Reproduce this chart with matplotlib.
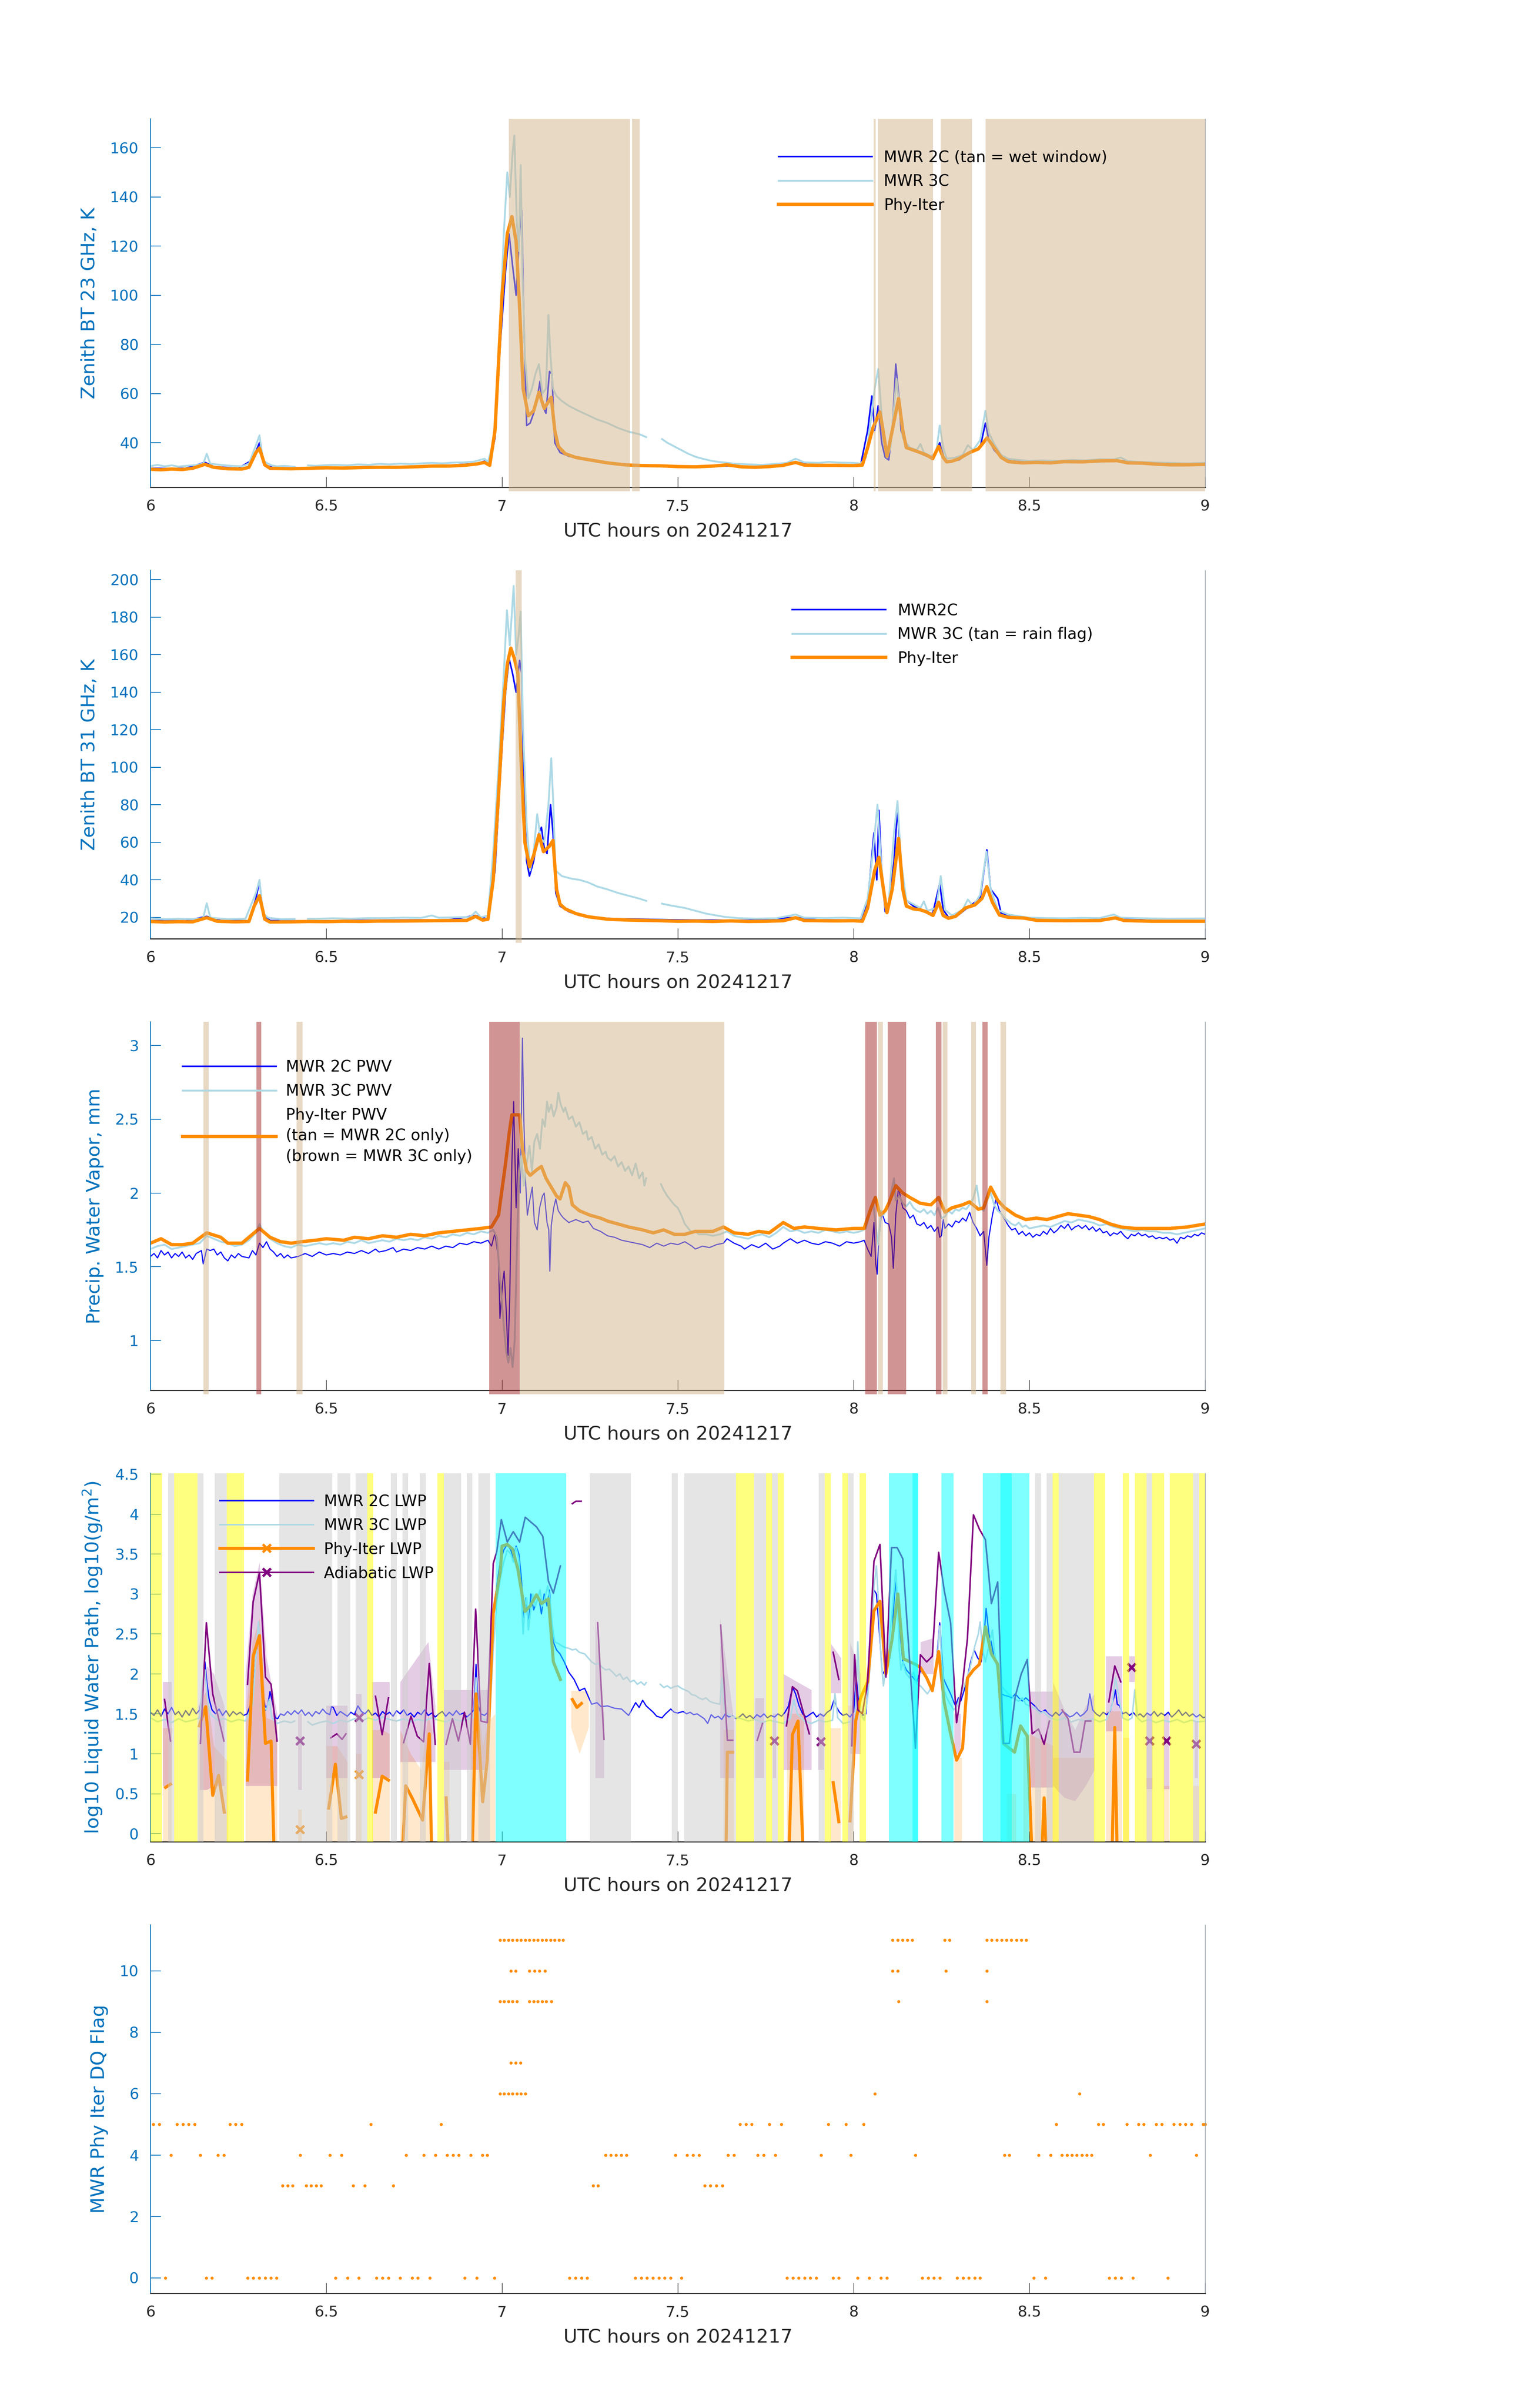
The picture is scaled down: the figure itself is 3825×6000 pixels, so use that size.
import numpy as np
import matplotlib
matplotlib.use("Agg")
import matplotlib.pyplot as plt
from matplotlib.lines import Line2D

NaN = np.nan

# ---------------- panel 1 : 23 GHz brightness temperature ----------------
BT23_2C = [(6.00,29.6),(6.05,29.5),(6.10,29.6),(6.155,32.0),(6.18,30.3),(6.25,29.6),(6.29,33.0),(6.31,40.0),(6.325,31.0),(6.35,29.8),(6.45,29.8),(6.55,29.9),(6.65,30.2),(6.75,30.4),(6.85,30.8),(6.93,31.6),(6.95,32.5),(6.965,31.0),(6.98,42.0),(6.995,80.0),(7.01,110.0),(7.02,125.0),(7.03,112.0),(7.04,100.0),(7.05,126.0),(7.056,134.5),(7.062,90.0),(7.07,47.0),(7.08,48.0),(7.09,52.0),(7.10,58.0),(7.108,65.0),(7.115,55.0),(7.125,52.0),(7.135,69.0),(7.142,68.0),(7.15,40.0),(7.165,36.0),(7.19,34.5),(7.22,33.5),(7.26,32.5),(7.30,31.6),(7.35,31.0),(7.45,30.7),(7.55,30.3),(7.65,30.6),(7.75,30.1),(7.835,32.2),(7.88,30.9),(7.95,30.7),(8.02,30.9),(8.04,45.0),(8.052,59.0),(8.06,45.0),(8.07,55.0),(8.08,40.0),(8.09,34.0),(8.10,33.0),(8.11,45.0),(8.12,72.0),(8.128,60.0),(8.135,45.0),(8.15,39.0),(8.17,37.0),(8.20,35.0),(8.225,33.5),(8.245,40.0),(8.26,32.5),(8.30,33.0),(8.33,36.0),(8.36,38.0),(8.375,48.0),(8.385,41.0),(8.40,37.0),(8.42,34.0),(8.45,32.5),(8.55,32.0),(8.65,32.4),(8.75,32.8),(8.85,31.7),(9.00,31.3)]
BT23_3C = [(6.00,30.5),(6.02,31.0),(6.04,30.4),(6.06,30.8),(6.08,30.3),(6.10,30.6),(6.13,30.9),(6.15,31.5),(6.16,35.5),(6.17,31.5),(6.20,31.0),(6.23,30.6),(6.26,30.4),(6.28,31.5),(6.30,39.0),(6.31,43.0),(6.32,33.0),(6.33,31.8),(6.345,30.8),(6.36,30.4),(6.38,30.6),(6.41,30.2),(6.412,NaN),(6.448,30.8),(6.47,30.6),(6.50,30.9),(6.53,31.0),(6.56,30.8),(6.59,31.2),(6.62,31.0),(6.65,31.4),(6.68,31.2),(6.71,31.5),(6.74,31.3),(6.77,31.6),(6.80,31.8),(6.83,31.6),(6.86,31.9),(6.89,32.0),(6.92,32.3),(6.95,33.5),(6.96,32.2),(6.975,40.0),(6.985,60.0),(6.995,90.0),(7.005,125.0),(7.015,150.0),(7.022,140.0),(7.030,158.0),(7.035,165.0),(7.042,130.0),(7.048,118.0),(7.053,153.0),(7.058,110.0),(7.065,75.0),(7.075,58.0),(7.085,62.0),(7.095,68.0),(7.105,72.0),(7.115,60.0),(7.125,62.0),(7.132,92.0),(7.138,75.0),(7.145,62.0),(7.155,59.0),(7.17,57.0),(7.19,55.0),(7.21,53.5),(7.24,51.5),(7.27,49.5),(7.30,48.0),(7.33,46.0),(7.36,44.5),(7.39,43.5),(7.41,42.3),(7.415,NaN),(7.455,41.5),(7.47,40.0),(7.49,38.5),(7.51,37.0),(7.53,35.5),(7.55,34.3),(7.57,33.5),(7.60,32.5),(7.63,32.0),(7.66,31.5),(7.70,31.2),(7.74,31.0),(7.78,31.4),(7.81,31.8),(7.835,33.5),(7.86,32.0),(7.90,31.8),(7.93,32.2),(7.96,31.9),(8.00,31.8),(8.02,31.5),(8.035,34.0),(8.05,50.0),(8.06,62.0),(8.07,70.0),(8.078,55.0),(8.085,40.0),(8.095,34.0),(8.105,38.0),(8.115,55.0),(8.122,66.0),(8.13,55.0),(8.14,42.0),(8.16,38.0),(8.18,37.0),(8.19,39.5),(8.20,36.0),(8.22,34.5),(8.235,36.0),(8.245,47.0),(8.255,38.0),(8.265,33.5),(8.29,34.0),(8.31,35.0),(8.325,39.0),(8.34,37.0),(8.36,41.0),(8.375,53.0),(8.385,44.0),(8.40,39.5),(8.42,35.0),(8.44,33.5),(8.47,33.0),(8.50,32.6),(8.54,32.8),(8.58,32.6),(8.62,33.0),(8.66,32.8),(8.70,33.3),(8.74,33.2),(8.76,34.0),(8.78,32.5),(8.81,32.2),(8.85,32.0),(8.90,31.8),(8.95,31.6),(9.00,31.8)]
BT23_PHY = [(6.00,29.2),(6.03,29.0),(6.06,29.3),(6.09,29.1),(6.12,29.6),(6.155,31.2),(6.18,30.0),(6.22,29.4),(6.26,29.3),(6.28,30.0),(6.30,36.0),(6.31,37.8),(6.325,31.0),(6.34,29.6),(6.40,29.4),(6.45,29.6),(6.50,29.8),(6.55,29.7),(6.60,29.9),(6.65,30.0),(6.70,30.0),(6.75,30.2),(6.80,30.5),(6.85,30.5),(6.90,30.9),(6.93,31.4),(6.95,32.0),(6.965,30.8),(6.98,45.0),(7.00,100.0),(7.015,125.0),(7.028,132.0),(7.04,122.0),(7.05,95.0),(7.06,62.0),(7.075,51.0),(7.09,53.0),(7.105,60.5),(7.12,54.0),(7.14,58.5),(7.15,45.0),(7.16,38.5),(7.18,35.5),(7.21,34.0),(7.25,33.0),(7.30,31.8),(7.35,31.0),(7.40,30.7),(7.45,30.6),(7.50,30.3),(7.55,30.2),(7.60,30.5),(7.64,31.0),(7.68,30.2),(7.72,30.0),(7.76,30.3),(7.80,30.8),(7.835,32.0),(7.86,30.9),(7.90,30.8),(7.95,30.8),(8.00,30.7),(8.025,30.9),(8.04,38.0),(8.055,46.0),(8.075,52.5),(8.085,44.0),(8.095,34.5),(8.11,45.0),(8.128,58.0),(8.14,45.0),(8.15,38.0),(8.17,37.0),(8.19,36.0),(8.21,34.8),(8.225,33.5),(8.242,38.5),(8.255,34.0),(8.265,32.2),(8.28,32.5),(8.30,33.5),(8.33,36.0),(8.355,37.5),(8.38,42.0),(8.40,38.0),(8.42,34.0),(8.44,32.3),(8.48,31.8),(8.52,32.0),(8.56,31.8),(8.60,32.3),(8.65,32.2),(8.70,32.6),(8.75,32.7),(8.78,31.8),(8.82,31.7),(8.86,31.3),(8.90,31.0),(8.95,31.0),(9.00,31.2)]
WET_WINDOW = [(7.019,7.364),(7.370,7.392),(8.057,8.063),(8.070,8.226),(8.248,8.337),(8.376,9.0)]

# ---------------- panel 2 : 31 GHz brightness temperature ----------------
BT31_2C = [(6.00,18.3),(6.10,18.1),(6.16,20.5),(6.20,18.3),(6.28,18.2),(6.30,30.0),(6.31,39.5),(6.32,22.0),(6.34,18.3),(6.45,18.0),(6.55,18.3),(6.65,18.5),(6.75,18.6),(6.85,18.7),(6.925,21.0),(6.96,19.0),(6.98,45.0),(6.995,95.0),(7.01,140.0),(7.02,158.0),(7.03,150.0),(7.04,140.0),(7.05,157.0),(7.056,150.0),(7.062,90.0),(7.07,50.0),(7.078,42.0),(7.09,50.0),(7.10,62.0),(7.112,68.0),(7.12,57.0),(7.128,54.0),(7.138,80.0),(7.145,65.0),(7.153,33.0),(7.165,26.0),(7.19,23.0),(7.22,21.0),(7.26,20.0),(7.32,19.2),(7.40,19.0),(7.50,18.6),(7.60,18.5),(7.70,18.4),(7.835,20.0),(7.90,18.6),(8.02,18.5),(8.04,28.0),(8.058,65.0),(8.066,40.0),(8.072,77.0),(8.08,45.0),(8.09,23.0),(8.10,25.0),(8.115,50.0),(8.125,78.0),(8.132,55.0),(8.145,30.0),(8.17,26.0),(8.20,23.0),(8.225,22.0),(8.245,38.0),(8.255,24.0),(8.27,20.0),(8.30,21.5),(8.33,26.0),(8.36,30.0),(8.379,56.0),(8.39,35.0),(8.41,30.0),(8.42,22.0),(8.46,20.0),(8.55,18.6),(8.65,18.5),(8.75,19.5),(8.85,18.3),(9.00,18.2)]
BT31_3C = [(6.00,19.4),(6.04,19.0),(6.08,19.2),(6.12,19.0),(6.15,19.6),(6.16,27.5),(6.17,19.8),(6.22,19.0),(6.27,19.2),(6.30,33.0),(6.31,40.0),(6.32,22.0),(6.335,19.8),(6.37,19.0),(6.41,19.1),(6.412,NaN),(6.448,19.2),(6.47,19.2),(6.52,19.5),(6.57,19.3),(6.62,19.6),(6.67,19.6),(6.72,19.8),(6.77,19.7),(6.80,21.0),(6.82,19.8),(6.87,20.0),(6.91,20.2),(6.925,23.0),(6.94,20.0),(6.96,21.0),(6.975,55.0),(6.99,100.0),(7.005,150.0),(7.014,183.7),(7.022,165.0),(7.033,196.7),(7.04,160.0),(7.047,170.0),(7.053,183.0),(7.06,120.0),(7.07,70.0),(7.08,45.0),(7.09,55.0),(7.10,75.0),(7.11,62.0),(7.12,60.0),(7.132,80.0),(7.14,104.8),(7.146,80.0),(7.152,45.0),(7.17,42.0),(7.20,40.5),(7.22,40.0),(7.245,38.6),(7.27,36.5),(7.30,34.9),(7.33,33.0),(7.36,31.5),(7.39,30.0),(7.41,28.8),(7.415,NaN),(7.455,27.3),(7.48,26.3),(7.52,25.0),(7.55,23.5),(7.58,22.0),(7.61,21.0),(7.635,20.2),(7.67,19.6),(7.72,19.3),(7.78,19.5),(7.835,21.5),(7.86,19.8),(7.92,19.6),(7.97,19.8),(8.02,19.5),(8.04,30.0),(8.055,55.0),(8.068,80.0),(8.078,50.0),(8.09,25.0),(8.10,28.0),(8.115,65.0),(8.125,82.0),(8.135,50.0),(8.15,29.0),(8.19,25.0),(8.20,28.5),(8.21,23.5),(8.235,25.0),(8.248,42.0),(8.26,24.0),(8.28,21.0),(8.31,24.0),(8.325,29.5),(8.34,26.0),(8.36,32.0),(8.378,55.0),(8.39,35.0),(8.41,24.0),(8.44,21.5),(8.50,19.8),(8.55,19.6),(8.60,19.5),(8.65,19.7),(8.70,19.6),(8.74,21.5),(8.76,19.8),(8.80,19.6),(8.85,19.4),(8.90,19.3),(9.00,19.4)]
BT31_PHY = [(6.00,17.8),(6.04,17.5),(6.08,17.7),(6.12,17.6),(6.16,19.8),(6.19,17.9),(6.24,17.6),(6.28,17.8),(6.295,26.0),(6.31,31.5),(6.325,19.0),(6.34,17.5),(6.40,17.6),(6.45,17.8),(6.50,17.7),(6.55,17.9),(6.60,17.8),(6.65,18.0),(6.70,18.0),(6.75,18.1),(6.80,18.2),(6.85,18.3),(6.90,18.4),(6.925,20.5),(6.945,18.5),(6.96,19.0),(6.975,40.0),(6.99,85.0),(7.005,135.0),(7.015,155.0),(7.025,163.5),(7.035,158.0),(7.045,150.0),(7.055,100.0),(7.065,60.0),(7.078,47.0),(7.09,53.0),(7.105,64.0),(7.118,55.0),(7.135,58.0),(7.145,61.0),(7.155,35.0),(7.165,27.0),(7.18,24.5),(7.21,22.0),(7.245,20.3),(7.30,19.0),(7.35,18.6),(7.40,18.4),(7.45,18.2),(7.50,17.9),(7.55,18.0),(7.60,17.8),(7.65,18.1),(7.70,17.8),(7.75,17.9),(7.80,18.2),(7.835,19.8),(7.86,18.3),(7.90,18.2),(7.95,18.1),(8.00,18.2),(8.025,17.9),(8.04,25.0),(8.06,45.0),(8.072,52.0),(8.085,35.0),(8.095,22.5),(8.11,35.0),(8.128,62.0),(8.14,35.0),(8.15,26.0),(8.17,24.5),(8.19,24.0),(8.206,23.0),(8.226,21.0),(8.242,28.0),(8.255,21.0),(8.27,19.5),(8.29,20.5),(8.318,25.0),(8.345,26.6),(8.365,30.0),(8.379,36.4),(8.395,28.0),(8.415,21.2),(8.44,20.0),(8.485,19.6),(8.52,18.4),(8.60,18.2),(8.70,18.3),(8.744,19.7),(8.77,18.3),(8.85,17.9),(9.00,17.9)]
RAIN_FLAG = [(7.039,7.056)]

# ---------------- panel 3 : precipitable water vapor ----------------
PWV_2C = [(6.00,1.57),(6.01,1.59),(6.02,1.56),(6.03,1.61),(6.04,1.58),(6.05,1.60),(6.06,1.56),(6.07,1.59),(6.08,1.57),(6.09,1.60),(6.10,1.56),(6.11,1.58),(6.12,1.55),(6.13,1.59),(6.145,1.61),(6.15,1.52),(6.16,1.62),(6.17,1.61),(6.18,1.62),(6.19,1.58),(6.20,1.60),(6.21,1.56),(6.22,1.54),(6.23,1.58),(6.24,1.56),(6.25,1.59),(6.26,1.57),(6.28,1.56),(6.29,1.61),(6.30,1.58),(6.31,1.66),(6.32,1.63),(6.33,1.67),(6.34,1.62),(6.35,1.60),(6.36,1.57),(6.37,1.59),(6.38,1.56),(6.39,1.58),(6.40,1.56),(6.42,1.57),(6.44,1.59),(6.46,1.57),(6.48,1.60),(6.50,1.58),(6.52,1.59),(6.54,1.58),(6.56,1.60),(6.58,1.59),(6.60,1.61),(6.62,1.59),(6.64,1.62),(6.65,1.60),(6.67,1.61),(6.69,1.63),(6.70,1.60),(6.72,1.62),(6.74,1.61),(6.76,1.63),(6.78,1.62),(6.80,1.64),(6.82,1.62),(6.84,1.64),(6.86,1.63),(6.88,1.66),(6.90,1.65),(6.92,1.67),(6.94,1.66),(6.96,1.68),(6.97,1.64),(6.98,1.73),(6.99,1.55),(6.994,1.15),(7.002,1.40),(7.006,1.47),(7.012,1.20),(7.017,0.90),(7.022,1.30),(7.028,2.20),(7.033,2.62),(7.040,1.90),(7.046,2.30),(7.052,2.00),(7.058,3.05),(7.062,2.50),(7.067,2.08),(7.072,1.85),(7.078,1.94),(7.086,2.04),(7.092,1.80),(7.10,1.75),(7.107,1.90),(7.115,1.98),(7.12,2.00),(7.128,1.80),(7.133,1.75),(7.136,1.47),(7.140,1.78),(7.147,1.90),(7.153,1.96),(7.16,1.88),(7.168,1.85),(7.175,1.83),(7.19,1.80),(7.21,1.82),(7.23,1.80),(7.245,1.81),(7.26,1.76),(7.28,1.74),(7.30,1.71),(7.32,1.70),(7.34,1.68),(7.36,1.67),(7.38,1.66),(7.40,1.65),(7.42,1.63),(7.44,1.66),(7.46,1.64),(7.48,1.66),(7.50,1.65),(7.52,1.67),(7.54,1.64),(7.55,1.62),(7.57,1.64),(7.59,1.63),(7.61,1.65),(7.63,1.66),(7.64,1.69),(7.66,1.66),(7.68,1.64),(7.69,1.62),(7.71,1.65),(7.73,1.63),(7.75,1.66),(7.77,1.62),(7.79,1.64),(7.80,1.66),(7.82,1.69),(7.84,1.66),(7.86,1.68),(7.88,1.66),(7.90,1.65),(7.92,1.67),(7.94,1.66),(7.96,1.64),(7.98,1.67),(8.00,1.66),(8.02,1.67),(8.03,1.68),(8.04,1.62),(8.05,1.57),(8.058,1.80),(8.063,1.52),(8.067,1.45),(8.072,1.70),(8.08,1.87),(8.09,1.80),(8.10,1.79),(8.108,1.70),(8.113,1.49),(8.12,1.85),(8.128,2.04),(8.135,1.95),(8.14,1.90),(8.15,1.88),(8.16,1.83),(8.17,1.85),(8.18,1.79),(8.19,1.78),(8.20,1.80),(8.21,1.76),(8.22,1.78),(8.23,1.74),(8.24,1.77),(8.245,1.70),(8.25,1.71),(8.255,1.82),(8.26,1.76),(8.27,1.79),(8.28,1.77),(8.29,1.81),(8.30,1.80),(8.31,1.83),(8.32,1.81),(8.33,1.87),(8.34,1.80),(8.35,1.76),(8.36,1.71),(8.37,1.74),(8.379,1.51),(8.385,1.70),(8.395,1.85),(8.405,1.96),(8.415,1.88),(8.43,1.82),(8.44,1.78),(8.45,1.75),(8.46,1.76),(8.47,1.72),(8.48,1.74),(8.49,1.71),(8.50,1.73),(8.51,1.70),(8.52,1.72),(8.53,1.71),(8.54,1.74),(8.55,1.72),(8.56,1.76),(8.57,1.73),(8.58,1.75),(8.59,1.78),(8.60,1.76),(8.61,1.79),(8.62,1.75),(8.63,1.77),(8.64,1.78),(8.65,1.76),(8.66,1.78),(8.67,1.75),(8.68,1.77),(8.69,1.74),(8.70,1.76),(8.71,1.73),(8.72,1.74),(8.73,1.71),(8.74,1.73),(8.75,1.72),(8.76,1.74),(8.77,1.71),(8.78,1.69),(8.79,1.72),(8.80,1.71),(8.81,1.73),(8.82,1.71),(8.83,1.72),(8.84,1.70),(8.85,1.71),(8.86,1.69),(8.87,1.70),(8.88,1.69),(8.89,1.70),(8.90,1.68),(8.91,1.69),(8.92,1.66),(8.93,1.70),(8.94,1.69),(8.95,1.71),(8.96,1.70),(8.97,1.72),(8.98,1.71),(8.99,1.73),(9.00,1.72)]
PWV_3C = [(6.00,1.62),(6.02,1.64),(6.04,1.65),(6.06,1.62),(6.08,1.63),(6.10,1.64),(6.12,1.65),(6.14,1.66),(6.16,1.71),(6.18,1.69),(6.20,1.67),(6.22,1.66),(6.24,1.64),(6.26,1.65),(6.28,1.68),(6.30,1.73),(6.31,1.79),(6.32,1.74),(6.34,1.69),(6.36,1.66),(6.38,1.64),(6.40,1.63),(6.42,1.65),(6.44,1.64),(6.46,1.65),(6.48,1.66),(6.50,1.65),(6.52,1.66),(6.54,1.65),(6.56,1.67),(6.58,1.66),(6.60,1.68),(6.62,1.66),(6.64,1.67),(6.66,1.68),(6.68,1.67),(6.70,1.69),(6.72,1.68),(6.74,1.69),(6.76,1.68),(6.78,1.70),(6.80,1.69),(6.82,1.71),(6.84,1.70),(6.86,1.72),(6.88,1.71),(6.90,1.73),(6.92,1.72),(6.94,1.74),(6.96,1.73),(6.975,1.75),(6.985,1.70),(6.995,1.40),(7.005,1.10),(7.012,0.92),(7.018,0.85),(7.024,0.95),(7.03,0.82),(7.036,1.00),(7.042,1.60),(7.048,2.10),(7.055,2.25),(7.062,2.05),(7.07,2.20),(7.078,2.32),(7.085,2.15),(7.092,2.35),(7.10,2.40),(7.108,2.30),(7.115,2.50),(7.122,2.45),(7.128,2.62),(7.133,2.55),(7.14,2.60),(7.147,2.52),(7.155,2.58),(7.16,2.68),(7.167,2.60),(7.175,2.55),(7.18,2.58),(7.19,2.50),(7.20,2.52),(7.21,2.45),(7.22,2.48),(7.23,2.40),(7.24,2.42),(7.245,2.36),(7.255,2.38),(7.265,2.30),(7.275,2.33),(7.285,2.26),(7.295,2.28),(7.30,2.24),(7.31,2.22),(7.32,2.25),(7.33,2.18),(7.34,2.21),(7.35,2.15),(7.36,2.18),(7.37,2.12),(7.38,2.20),(7.39,2.10),(7.40,2.14),(7.405,2.05),(7.41,2.10),(7.415,NaN),(7.452,2.06),(7.46,2.02),(7.47,1.98),(7.48,1.95),(7.49,1.92),(7.50,1.90),(7.51,1.85),(7.52,1.79),(7.53,1.76),(7.54,1.73),(7.55,1.74),(7.56,1.72),(7.58,1.72),(7.60,1.71),(7.62,1.72),(7.64,1.74),(7.66,1.71),(7.68,1.70),(7.70,1.69),(7.72,1.71),(7.74,1.72),(7.76,1.70),(7.78,1.73),(7.80,1.77),(7.82,1.74),(7.84,1.75),(7.86,1.73),(7.88,1.74),(7.90,1.73),(7.92,1.75),(7.94,1.74),(7.96,1.73),(7.98,1.74),(8.00,1.73),(8.02,1.74),(8.035,1.76),(8.045,1.85),(8.055,1.95),(8.062,1.80),(8.07,1.65),(8.078,1.88),(8.085,1.85),(8.095,1.90),(8.105,1.98),(8.115,2.10),(8.12,1.95),(8.13,1.98),(8.14,1.93),(8.15,1.91),(8.16,1.94),(8.17,1.90),(8.18,1.88),(8.19,1.87),(8.20,1.89),(8.21,1.86),(8.22,1.88),(8.23,1.85),(8.24,1.90),(8.25,1.83),(8.26,1.84),(8.27,1.88),(8.28,1.86),(8.29,1.89),(8.30,1.88),(8.31,1.90),(8.32,1.89),(8.33,1.92),(8.34,1.96),(8.35,2.05),(8.36,1.90),(8.37,1.88),(8.38,1.95),(8.39,2.00),(8.40,1.92),(8.41,1.88),(8.42,1.86),(8.43,1.83),(8.44,1.81),(8.45,1.79),(8.46,1.78),(8.47,1.80),(8.48,1.77),(8.49,1.78),(8.50,1.76),(8.52,1.77),(8.54,1.78),(8.56,1.77),(8.58,1.79),(8.60,1.81),(8.62,1.80),(8.64,1.82),(8.66,1.81),(8.68,1.80),(8.70,1.78),(8.72,1.79),(8.74,1.77),(8.76,1.76),(8.78,1.75),(8.80,1.74),(8.82,1.75),(8.84,1.74),(8.86,1.74),(8.88,1.73),(8.90,1.73),(8.92,1.72),(8.94,1.73),(8.96,1.74),(8.98,1.75),(9.00,1.76)]
PWV_PHY = [(6.00,1.66),(6.03,1.69),(6.06,1.65),(6.09,1.65),(6.12,1.66),(6.16,1.73),(6.20,1.70),(6.22,1.66),(6.26,1.66),(6.28,1.70),(6.31,1.76),(6.34,1.70),(6.37,1.67),(6.40,1.66),(6.43,1.67),(6.47,1.68),(6.50,1.69),(6.55,1.68),(6.58,1.70),(6.62,1.69),(6.66,1.71),(6.70,1.70),(6.74,1.72),(6.78,1.71),(6.82,1.73),(6.86,1.74),(6.90,1.75),(6.94,1.76),(6.97,1.77),(6.99,1.85),(7.01,2.20),(7.02,2.40),(7.028,2.53),(7.05,2.53),(7.058,2.30),(7.07,2.15),(7.08,2.12),(7.10,2.16),(7.112,2.18),(7.125,2.10),(7.14,2.04),(7.155,1.98),(7.165,1.96),(7.18,2.07),(7.19,2.04),(7.20,1.92),(7.22,1.88),(7.25,1.85),(7.28,1.83),(7.30,1.81),(7.33,1.79),(7.36,1.77),(7.40,1.75),(7.43,1.73),(7.46,1.75),(7.49,1.72),(7.52,1.72),(7.55,1.74),(7.60,1.74),(7.63,1.77),(7.66,1.73),(7.70,1.72),(7.73,1.74),(7.76,1.73),(7.80,1.80),(7.83,1.76),(7.86,1.77),(7.90,1.76),(7.95,1.75),(8.00,1.76),(8.03,1.76),(8.05,1.90),(8.062,1.97),(8.075,1.85),(8.09,1.88),(8.10,1.93),(8.12,2.05),(8.14,2.00),(8.16,1.97),(8.19,1.93),(8.22,1.92),(8.242,1.97),(8.26,1.87),(8.28,1.90),(8.31,1.92),(8.33,1.94),(8.355,1.89),(8.37,1.90),(8.39,2.04),(8.41,1.95),(8.43,1.90),(8.46,1.85),(8.49,1.82),(8.52,1.83),(8.55,1.82),(8.58,1.84),(8.61,1.86),(8.64,1.85),(8.67,1.84),(8.70,1.82),(8.73,1.79),(8.76,1.77),(8.80,1.76),(8.85,1.76),(8.90,1.76),(8.95,1.77),(9.00,1.79)]
ONLY_2C = [(6.151,6.165),(6.416,6.433),(7.050,7.632),(8.070,8.083),(8.253,8.267),(8.334,8.348),(8.418,8.434)]
ONLY_3C = [(6.301,6.315),(6.964,7.050),(8.033,8.066),(8.097,8.150),(8.234,8.250),(8.367,8.381)]

# ---------------- panel 4 : liquid water path (log10) ----------------
LWP_2C = [(6.00,1.52),(6.01,1.48),(6.02,1.55),(6.03,1.47),(6.04,1.56),(6.05,1.50),(6.06,1.58),(6.07,1.49),(6.08,1.53),(6.09,1.46),(6.10,1.54),(6.11,1.48),(6.12,1.57),(6.13,1.50),(6.14,1.55),(6.148,1.80),(6.155,2.15),(6.16,1.90),(6.167,1.68),(6.175,1.55),(6.185,1.50),(6.195,1.56),(6.205,1.48),(6.215,1.54),(6.225,1.47),(6.235,1.53),(6.245,1.49),(6.255,1.52),(6.265,1.48),(6.275,1.50),(6.285,1.62),(6.295,1.95),(6.302,2.30),(6.307,2.48),(6.313,2.20),(6.32,1.75),(6.327,1.55),(6.334,1.62),(6.34,1.78),(6.348,1.62),(6.355,1.45),(6.362,1.44),(6.37,1.50),(6.38,1.48),(6.39,1.53),(6.40,1.49),(6.41,1.54),(6.42,1.50),(6.43,1.55),(6.44,1.48),(6.45,1.52),(6.46,1.47),(6.47,1.53),(6.48,1.50),(6.49,1.56),(6.50,1.51),(6.51,1.49),(6.515,1.59),(6.52,1.58),(6.53,1.48),(6.54,1.53),(6.55,1.50),(6.56,1.47),(6.57,1.52),(6.58,1.49),(6.59,1.60),(6.60,1.53),(6.61,1.50),(6.62,1.55),(6.63,1.48),(6.64,1.51),(6.65,1.46),(6.66,1.53),(6.67,1.49),(6.68,1.52),(6.69,1.47),(6.70,1.54),(6.71,1.50),(6.72,1.55),(6.73,1.48),(6.74,1.51),(6.75,1.46),(6.76,1.52),(6.77,1.49),(6.78,1.55),(6.79,1.48),(6.80,1.51),(6.81,1.46),(6.82,1.50),(6.83,1.53),(6.84,1.47),(6.85,1.52),(6.86,1.48),(6.87,1.54),(6.88,1.49),(6.89,1.51),(6.90,1.46),(6.91,1.50),(6.92,1.55),(6.926,2.12),(6.932,1.60),(6.94,1.50),(6.95,1.48),(6.96,1.52),(6.968,1.90),(6.975,2.75),(6.985,3.10),(6.995,3.40),(7.005,3.55),(7.015,3.62),(7.025,3.55),(7.032,3.45),(7.04,3.60),(7.048,3.50),(7.055,3.20),(7.062,2.70),(7.068,2.95),(7.075,2.60),(7.082,3.00),(7.09,2.80),(7.098,2.90),(7.105,2.95),(7.112,2.75),(7.12,3.00),(7.128,2.85),(7.135,3.05),(7.14,2.70),(7.146,2.40),(7.155,2.30),(7.165,2.25),(7.177,2.15),(7.19,2.02),(7.205,1.93),(7.22,1.79),(7.235,1.82),(7.255,1.62),(7.27,1.64),(7.282,1.59),(7.30,1.60),(7.32,1.57),(7.34,1.56),(7.36,1.48),(7.38,1.64),(7.39,1.58),(7.40,1.67),(7.41,1.60),(7.42,1.56),(7.43,1.52),(7.44,1.47),(7.455,1.45),(7.465,1.50),(7.48,1.56),(7.49,1.52),(7.50,1.51),(7.515,1.53),(7.525,1.50),(7.535,1.52),(7.545,1.49),(7.555,1.50),(7.565,1.47),(7.575,1.44),(7.585,1.38),(7.595,1.49),(7.605,1.45),(7.615,1.47),(7.625,1.43),(7.635,1.50),(7.645,1.46),(7.655,1.48),(7.665,1.44),(7.675,1.46),(7.685,1.50),(7.695,1.45),(7.705,1.48),(7.715,1.44),(7.725,1.49),(7.735,1.46),(7.745,1.50),(7.755,1.45),(7.765,1.48),(7.775,1.46),(7.785,1.50),(7.795,1.47),(7.805,1.52),(7.815,1.60),(7.822,1.75),(7.828,1.82),(7.835,1.75),(7.845,1.60),(7.855,1.50),(7.865,1.46),(7.875,1.49),(7.885,1.52),(7.895,1.46),(7.905,1.50),(7.915,1.47),(7.925,1.52),(7.935,1.55),(7.945,1.68),(7.952,1.58),(7.96,1.52),(7.97,1.48),(7.98,1.50),(7.99,1.46),(8.00,1.52),(8.008,1.95),(8.015,1.60),(8.025,1.48),(8.035,1.50),(8.043,1.93),(8.05,2.50),(8.058,3.05),(8.065,3.00),(8.072,2.60),(8.082,1.99),(8.09,2.05),(8.096,2.10),(8.103,2.20),(8.109,2.45),(8.115,2.90),(8.12,3.19),(8.125,2.80),(8.13,2.60),(8.14,2.15),(8.15,2.05),(8.16,2.00),(8.17,1.95),(8.18,1.90),(8.193,2.08),(8.20,2.00),(8.208,1.94),(8.218,1.85),(8.227,1.85),(8.235,2.10),(8.245,2.64),(8.25,2.30),(8.256,1.94),(8.265,1.85),(8.276,1.75),(8.285,1.65),(8.29,1.60),(8.298,1.70),(8.305,1.66),(8.315,1.80),(8.324,1.96),(8.333,2.15),(8.343,2.30),(8.353,2.20),(8.363,2.15),(8.37,2.40),(8.377,2.82),(8.385,2.50),(8.392,2.39),(8.40,2.20),(8.407,2.15),(8.415,1.90),(8.42,1.75),(8.43,1.73),(8.44,1.72),(8.45,1.70),(8.46,1.75),(8.47,1.70),(8.48,1.66),(8.49,1.70),(8.50,1.66),(8.51,1.62),(8.518,1.59),(8.525,1.55),(8.535,1.52),(8.545,1.55),(8.555,1.50),(8.565,1.47),(8.575,1.52),(8.585,1.48),(8.595,1.53),(8.605,1.50),(8.615,1.46),(8.625,1.48),(8.635,1.52),(8.645,1.47),(8.655,1.50),(8.665,1.55),(8.672,1.75),(8.68,1.55),(8.69,1.50),(8.70,1.47),(8.71,1.52),(8.72,1.49),(8.73,1.53),(8.74,1.70),(8.745,1.80),(8.75,1.62),(8.757,1.60),(8.765,1.50),(8.775,1.52),(8.785,1.48),(8.795,1.52),(8.805,1.47),(8.815,1.50),(8.825,1.46),(8.835,1.51),(8.845,1.48),(8.855,1.53),(8.865,1.47),(8.875,1.51),(8.885,1.48),(8.895,1.52),(8.905,1.46),(8.915,1.50),(8.925,1.55),(8.935,1.48),(8.945,1.52),(8.955,1.47),(8.965,1.50),(8.975,1.46),(8.985,1.49),(8.995,1.45),(9.00,1.46)]
LWP_3C = [(6.00,1.45),(6.02,1.40),(6.04,1.43),(6.06,1.39),(6.08,1.44),(6.10,1.40),(6.12,1.42),(6.14,1.45),(6.148,1.90),(6.155,2.05),(6.162,1.70),(6.17,1.50),(6.19,1.42),(6.21,1.44),(6.23,1.40),(6.25,1.43),(6.27,1.41),(6.29,1.60),(6.30,2.20),(6.307,2.65),(6.313,2.30),(6.32,1.60),(6.33,1.55),(6.338,1.68),(6.345,1.45),(6.36,1.38),(6.38,1.41),(6.40,1.39),(6.41,1.41),(6.412,NaN),(6.448,1.40),(6.46,1.36),(6.48,1.39),(6.50,1.41),(6.52,1.38),(6.54,1.42),(6.56,1.40),(6.58,1.44),(6.60,1.41),(6.62,1.45),(6.64,1.42),(6.66,1.46),(6.68,1.43),(6.70,1.41),(6.72,1.44),(6.74,1.40),(6.76,1.43),(6.78,1.41),(6.80,1.45),(6.82,1.42),(6.84,1.40),(6.86,1.44),(6.88,1.41),(6.90,1.43),(6.92,1.46),(6.926,1.95),(6.932,1.50),(6.95,1.42),(6.965,1.45),(6.975,2.30),(6.985,2.90),(6.995,3.20),(7.005,3.40),(7.015,3.55),(7.025,3.50),(7.032,3.40),(7.04,3.58),(7.047,3.45),(7.055,3.00),(7.06,2.50),(7.065,2.85),(7.07,2.95),(7.075,2.55),(7.08,2.75),(7.087,3.00),(7.095,2.85),(7.102,2.95),(7.108,3.05),(7.115,2.85),(7.122,2.95),(7.13,3.10),(7.137,2.90),(7.143,2.60),(7.15,2.40),(7.16,2.38),(7.17,2.35),(7.18,2.33),(7.19,2.32),(7.20,2.30),(7.21,2.31),(7.22,2.27),(7.235,2.25),(7.245,2.20),(7.255,2.15),(7.265,2.12),(7.275,2.13),(7.285,2.08),(7.295,2.05),(7.305,2.06),(7.315,2.02),(7.325,1.97),(7.335,2.00),(7.345,1.93),(7.355,1.96),(7.365,1.90),(7.375,1.92),(7.385,1.87),(7.395,1.90),(7.405,1.86),(7.41,1.89),(7.415,NaN),(7.45,1.87),(7.46,1.83),(7.47,1.85),(7.48,1.82),(7.49,1.84),(7.50,1.85),(7.51,1.82),(7.52,1.80),(7.53,1.78),(7.54,1.74),(7.55,1.73),(7.56,1.70),(7.57,1.68),(7.58,1.70),(7.59,1.66),(7.60,1.64),(7.62,1.62),(7.625,1.95),(7.632,1.55),(7.64,1.50),(7.66,1.46),(7.68,1.44),(7.70,1.41),(7.72,1.43),(7.74,1.39),(7.76,1.42),(7.78,1.40),(7.80,1.38),(7.82,1.44),(7.83,1.68),(7.84,1.50),(7.86,1.41),(7.88,1.38),(7.90,1.42),(7.92,1.40),(7.94,1.42),(7.947,1.75),(7.955,1.45),(7.97,1.38),(7.99,1.40),(8.005,1.45),(8.012,2.40),(8.02,1.50),(8.03,1.42),(8.04,1.70),(8.05,2.30),(8.058,3.10),(8.065,3.35),(8.072,2.80),(8.078,2.20),(8.085,1.85),(8.092,2.10),(8.10,2.35),(8.108,2.70),(8.115,3.05),(8.12,3.30),(8.126,2.80),(8.13,2.30),(8.135,2.05),(8.14,2.15),(8.15,2.00),(8.16,1.95),(8.17,2.02),(8.18,1.88),(8.19,1.85),(8.20,1.80),(8.21,1.75),(8.22,1.82),(8.23,1.95),(8.24,2.30),(8.245,2.60),(8.25,2.20),(8.258,1.80),(8.265,1.70),(8.275,1.62),(8.285,1.55),(8.295,1.60),(8.305,1.75),(8.315,1.85),(8.33,2.05),(8.345,2.35),(8.355,2.50),(8.36,2.65),(8.367,2.30),(8.375,2.15),(8.385,2.35),(8.395,2.55),(8.40,2.30),(8.41,2.00),(8.42,1.85),(8.43,1.80),(8.44,1.75),(8.45,1.72),(8.46,1.68),(8.47,1.66),(8.48,1.70),(8.49,1.62),(8.50,1.60),(8.51,1.58),(8.52,1.55),(8.53,1.50),(8.54,1.53),(8.55,1.48),(8.56,1.45),(8.58,1.42),(8.60,1.45),(8.62,1.40),(8.64,1.43),(8.66,1.41),(8.68,1.44),(8.70,1.40),(8.72,1.43),(8.735,1.60),(8.745,1.95),(8.755,1.70),(8.765,1.45),(8.78,1.42),(8.792,1.45),(8.80,1.80),(8.808,1.45),(8.82,1.40),(8.84,1.43),(8.86,1.39),(8.88,1.42),(8.90,1.40),(8.92,1.43),(8.94,1.39),(8.96,1.42),(8.98,1.40),(9.00,1.41)]
LWP_PHY = [(6.043,0.58),(6.057,0.62),(6.06,NaN),
           (6.139,1.35),(6.157,1.59),(6.177,0.48),(6.194,0.73),(6.21,0.27),(6.22,NaN),
           (6.276,0.67),(6.292,2.22),(6.31,2.48),(6.327,1.13),(6.343,1.16),(6.352,-0.3),(6.36,NaN),
           (6.507,0.32),(6.526,0.87),(6.543,0.19),(6.556,0.21),(6.56,NaN),
           (6.64,0.27),(6.659,0.72),(6.677,0.67),(6.68,NaN),
           (6.716,-0.3),(6.726,0.60),(6.744,0.45),(6.774,0.17),(6.793,1.25),(6.80,-0.3),(6.81,NaN),
           (6.841,0.45),(6.848,-0.3),(6.85,NaN),
           (6.915,-0.3),(6.926,1.75),(6.945,0.40),(6.958,0.92),(6.975,2.76),(6.995,3.28),(7.0,3.60),(7.015,3.62),(7.03,3.56),(7.045,3.31),(7.065,2.78),(7.08,2.85),(7.098,2.99),(7.112,2.88),(7.132,2.94),(7.146,2.15),(7.166,1.93),(7.17,NaN),
           (7.20,1.68),(7.213,1.58),(7.226,1.63),(7.23,NaN),
           (7.637,-0.3),(7.641,1.02),(7.656,1.02),(7.66,NaN),
           (7.816,-0.3),(7.826,1.24),(7.842,1.41),(7.857,-0.3),(7.86,NaN),
           (7.942,0.64),(7.958,0.15),(7.96,NaN),
           (7.99,0.16),(8.006,1.41),(8.02,1.70),(8.04,1.90),(8.058,2.79),(8.075,2.91),(8.092,2.00),(8.109,2.42),(8.126,3.00),(8.142,2.19),(8.16,2.15),(8.176,2.12),(8.19,2.08),(8.208,1.95),(8.224,1.79),(8.242,2.28),(8.258,1.64),(8.276,1.25),(8.293,0.92),(8.31,1.07),(8.324,1.95),(8.341,2.05),(8.358,2.12),(8.375,2.59),(8.392,2.25),(8.41,2.12),(8.426,1.13),(8.443,1.07),(8.458,1.02),(8.475,1.35),(8.494,1.22),(8.508,-0.3),(8.51,NaN),
           (8.535,-0.3),(8.542,0.45),(8.549,-0.3),(8.55,NaN),
           (8.735,-0.3),(8.743,1.33),(8.75,-0.3)]
LWP_PHY_PTS = [(6.426,0.05),(6.594,0.74)]
LWP_ADIA = [(6.04,1.68),(6.057,1.16),(6.06,NaN),
            (6.142,1.13),(6.159,2.64),(6.177,1.75),(6.194,1.44),(6.209,1.16),(6.22,NaN),
            (6.276,1.87),(6.292,2.90),(6.31,3.27),(6.327,1.96),(6.343,1.87),(6.36,1.16),(6.37,NaN),
            (6.513,1.20),(6.53,1.25),(6.545,1.18),(6.556,1.25),(6.56,NaN),
            (6.64,1.72),(6.659,1.24),(6.677,1.70),(6.68,NaN),
            (6.72,1.14),(6.741,1.47),(6.759,1.22),(6.777,1.15),(6.793,2.13),(6.81,1.12),(6.82,NaN),
            (6.841,1.12),(6.859,1.44),(6.876,1.16),(6.893,1.52),(6.91,1.12),(6.925,2.81),(6.94,1.41),(6.958,1.39),(6.975,3.38),(6.985,3.53),(6.998,3.93),(7.015,3.65),(7.032,3.78),(7.05,3.65),(7.066,3.96),(7.082,3.90),(7.098,3.84),(7.116,3.72),(7.132,3.16),(7.146,3.01),(7.166,3.35),(7.17,NaN),
            (7.20,4.13),(7.21,4.16),(7.225,4.16),(7.23,NaN),
            (7.272,2.64),(7.29,1.18),(7.30,NaN),
            (7.622,2.61),(7.641,1.17),(7.656,1.17),(7.66,NaN),
            (7.726,1.17),(7.741,1.38),(7.75,NaN),
            (7.809,1.35),(7.826,1.84),(7.84,1.79),(7.874,1.25),(7.88,NaN),
            (7.942,2.27),(7.958,1.93),(7.96,NaN),
            (7.995,1.10),(8.003,2.24),(8.012,1.55),(8.025,1.50),(8.04,1.90),(8.058,3.41),(8.075,3.62),(8.092,1.96),(8.108,3.58),(8.124,3.58),(8.14,3.44),(8.176,1.07),(8.19,2.24),(8.208,2.15),(8.224,2.22),(8.242,3.52),(8.258,3.04),(8.276,2.64),(8.293,1.39),(8.31,1.87),(8.324,2.45),(8.341,3.99),(8.358,3.81),(8.375,3.68),(8.392,2.88),(8.41,3.15),(8.426,1.13),(8.443,1.13),(8.46,1.72),(8.477,2.00),(8.494,2.18),(8.508,1.25),(8.526,1.31),(8.542,1.12),(8.557,1.41),(8.56,NaN),
            (8.593,1.55),(8.61,1.44),(8.627,1.02),(8.644,1.02),(8.659,1.41),(8.675,1.41),(8.68,NaN),
            (8.726,1.65),(8.743,2.10),(8.76,1.90)]
LWP_ADIA_PTS = [(6.426,1.16),(6.594,1.45),(7.775,1.16),(7.908,1.15),(8.791,2.08),(8.842,1.16),(8.89,1.16),(8.975,1.12)]
# uncertainty bands: (time, low, high)
PHY_BAND = [[(6.035,-0.1,1.32),(6.06,-0.1,1.32)],
            [(6.135,-0.1,1.60),(6.16,-0.1,1.80),(6.18,-0.1,1.10),(6.21,-0.1,0.95),(6.22,-0.1,0.90)],
            [(6.27,-0.1,1.45),(6.29,-0.1,2.40),(6.31,-0.1,2.70),(6.33,-0.1,1.45),(6.36,-0.1,1.40)],
            [(6.42,-0.1,0.30),(6.43,-0.1,0.30)],
            [(6.50,-0.1,1.10),(6.53,-0.1,1.10),(6.56,-0.1,0.90)],
            [(6.585,-0.1,1.00),(6.60,-0.1,1.00)],
            [(6.63,-0.1,1.30),(6.66,-0.1,1.30),(6.68,-0.1,1.25)],
            [(6.71,-0.1,1.30),(6.74,-0.1,1.00),(6.77,-0.1,0.80),(6.79,-0.1,1.50),(6.80,-0.1,1.30)],
            [(6.835,-0.1,0.90),(6.85,-0.1,0.90)],
            [(6.91,-0.1,1.30),(6.926,-0.1,1.90),(6.945,-0.1,1.10),(6.96,-0.1,1.40),(6.98,-0.1,1.50)],
            [(7.196,1.33,1.79),(7.22,1.00,1.79),(7.246,1.33,1.79)],
            [(7.63,-0.1,1.30),(7.66,-0.1,1.30)],
            [(7.81,-0.1,1.50),(7.86,-0.1,1.50)],
            [(7.934,-0.1,1.32),(7.964,-0.1,1.32)],
            [(7.984,-0.1,1.60),(8.0,-0.1,1.60)],
            [(8.286,-0.1,0.95),(8.308,-0.1,0.95)],
            [(8.436,-0.1,0.50),(8.462,-0.1,0.50)],
            [(8.482,-0.1,1.20),(8.50,-0.1,1.25),(8.567,-0.1,1.10)],
            [(8.567,-0.1,0.95),(8.685,-0.1,0.95)],
            [(8.718,-0.1,1.53),(8.764,-0.1,1.53)],
            [(8.767,-0.1,1.20),(8.784,-0.1,1.20)],
            [(8.833,-0.1,0.70),(8.85,-0.1,0.70)],
            [(8.882,-0.1,0.60),(8.898,-0.1,0.60)],
            [(8.966,-0.1,0.60),(8.983,-0.1,0.60)]]
ADIA_BAND = [[(6.035,0.60,1.90),(6.06,0.60,1.90)],
             [(6.14,0.55,1.40),(6.16,0.55,2.10),(6.18,0.60,2.00),(6.21,0.60,1.60)],
             [(6.27,0.60,2.00),(6.29,0.60,3.00),(6.31,0.60,3.40),(6.33,0.60,2.20),(6.36,0.60,1.50)],
             [(6.42,0.55,1.50),(6.43,0.55,1.50)],
             [(6.50,0.70,1.60),(6.56,0.70,1.60)],
             [(6.585,0.70,1.75),(6.60,0.70,1.75)],
             [(6.63,0.70,1.90),(6.68,0.70,1.90)],
             [(6.71,0.90,1.90),(6.79,0.90,2.40),(6.81,0.90,1.60)],
             [(6.835,0.80,1.80),(6.96,0.80,1.80)],
             [(7.265,0.70,2.70),(7.29,0.70,1.50)],
             [(7.62,0.70,2.70),(7.66,0.70,1.40)],
             [(7.72,0.70,1.70),(7.745,0.70,1.70)],
             [(7.77,0.70,1.50),(7.78,0.70,1.50)],
             [(7.80,0.80,2.00),(7.88,0.80,1.80)],
             [(7.90,0.80,1.50),(7.915,0.80,1.50)],
             [(7.935,1.76,2.38),(7.964,1.76,2.20)],
             [(7.99,1.00,2.40),(8.02,1.00,2.00)],
             [(8.19,2.00,2.40),(8.227,2.00,2.45)],
             [(8.286,1.00,1.50),(8.305,1.00,1.50)],
             [(8.502,0.58,1.78),(8.567,0.58,1.78)],
             [(8.567,0.60,1.90),(8.60,0.45,1.55),(8.63,0.41,1.30),(8.66,0.60,1.60),(8.685,0.80,1.75)],
             [(8.718,1.28,2.22),(8.764,1.28,2.22)],
             [(8.784,1.90,2.22),(8.80,1.90,2.22)],
             [(8.833,0.56,1.50),(8.85,0.56,1.50)],
             [(8.882,0.56,1.50),(8.898,0.56,1.50)],
             [(8.97,0.70,1.40),(8.98,0.70,1.40)]]
YELLOW_SPANS = [(6.0,6.033),(6.067,6.133),(6.217,6.266),(6.616,6.633),(6.816,6.834),(7.666,7.717),(7.751,7.768),(7.784,7.801),(7.918,7.935),(7.968,7.984),(8.017,8.035),(8.566,8.583),(8.684,8.716),(8.766,8.783),(8.8,8.833),(8.849,8.883),(8.899,8.966),(8.983,9.0)]
GRAY_SPANS = [(6.05,6.067),(6.133,6.151),(6.183,6.217),(6.366,6.517),(6.532,6.568),(6.583,6.616),(6.684,6.701),(6.717,6.733),(6.766,6.783),(6.834,6.883),(6.9,6.916),(6.933,6.966),(7.25,7.367),(7.483,7.5),(7.518,7.666),(7.717,7.751),(7.768,7.784),(7.901,7.918),(7.984,8.0),(8.516,8.533),(8.549,8.566),(8.583,8.684),(8.833,8.849),(8.966,8.983)]
CYAN_SPANS = [(6.982,7.183),(8.101,8.183),(8.168,8.184),(8.25,8.284),(8.368,8.5),(8.418,8.45)]

# ---------------- panel 5 : data quality flag ----------------
DQ_FLAGS = [0, 3, 4, 5, 6, 7, 9, 10, 11]
DQ_TIMES = {
    11: [6.994,7.006,7.018,7.030,7.042,7.054,7.066,7.078,7.090,7.102,7.114,7.126,7.138,7.150,7.162,7.174,8.111,8.125,8.139,8.153,8.167,8.259,8.273,8.379,8.393,8.407,8.421,8.435,8.449,8.463,8.477,8.491],
    10: [7.025,7.039,7.078,7.092,7.106,7.122,8.111,8.125,8.262,8.379],
    9: [6.994,7.006,7.018,7.030,7.042,7.078,7.090,7.102,7.114,7.126,7.140,8.128,8.379],
    7: [7.025,7.039,7.053],
    6: [6.994,7.006,7.018,7.030,7.042,7.054,7.066,8.061,8.643],
    5: [6.008,6.025,6.075,6.092,6.108,6.125,6.226,6.242,6.259,6.627,6.827,7.677,7.694,7.710,7.760,7.794,7.928,7.978,8.028,8.577,8.696,8.710,8.777,8.810,8.825,8.861,8.877,8.911,8.928,8.944,8.961,8.994,9.0],
    4: [6.058,6.142,6.192,6.209,6.426,6.510,6.543,6.727,6.777,6.811,6.844,6.861,6.877,6.911,6.944,6.958,7.295,7.309,7.324,7.339,7.354,7.493,7.526,7.543,7.560,7.643,7.660,7.727,7.744,7.777,7.908,7.992,8.176,8.429,8.443,8.526,8.560,8.593,8.607,8.621,8.635,8.649,8.663,8.677,8.844,8.975],
    3: [6.376,6.390,6.404,6.443,6.457,6.471,6.485,6.577,6.610,6.691,7.259,7.273,7.577,7.593,7.610,7.627],
    0: [6.042,6.159,6.175,6.276,6.292,6.309,6.326,6.342,6.359,6.526,6.560,6.593,6.643,6.660,6.677,6.710,6.744,6.760,6.794,6.894,6.928,6.978,7.192,7.209,7.226,7.242,7.379,7.396,7.412,7.429,7.446,7.462,7.479,7.510,7.811,7.828,7.844,7.861,7.877,7.894,7.942,7.958,8.011,8.045,8.078,8.095,8.195,8.212,8.228,8.245,8.295,8.312,8.328,8.345,8.360,8.513,8.546,8.727,8.744,8.761,8.794,8.894],
}

# ---------------- style ----------------
BLUE_AX = (0.0, 0.447, 0.741)
DARK = (0.15, 0.15, 0.15)
C_2C = (0.0, 0.0, 1.0)
C_3C = (0.68, 0.85, 0.90)
C_PHY = (1.0, 0.549, 0.0)
C_ADIA = (0.5, 0.0, 0.5)
TAN = (0.824, 0.706, 0.549)
BROWN = (0.647, 0.165, 0.165)
LW_2C, LW_3C, LW_PHY = 2.8, 3.3, 6.0

W, H = 3825, 6000
fig = plt.figure(figsize=(W / 100, H / 100), dpi=100)
AX_L, AX_R, AX_HPX = 375, 3003, 918
TOPS = [296, 1421, 2546, 3671, 4796]
axes = [fig.add_axes([AX_L / W, 1 - (t + AX_HPX) / H, (AX_R - AX_L) / W, AX_HPX / H]) for t in TOPS]


def xy(pairs):
    a = np.array(pairs, dtype=float)
    return a[:, 0], a[:, 1]


def spans(ax, lst, color, alpha=0.5, below=0.0):
    for a, b in lst:
        ax.axvspan(a, b, ymin=-below, ymax=1, color=color, alpha=alpha, lw=0,
                   zorder=3, clip_on=(below == 0))


def style(ax, ylabel, ylim, yticks):
    ax.set_xlim(6, 9)
    ax.set_ylim(*ylim)
    xt = [6, 6.5, 7, 7.5, 8, 8.5, 9]
    ax.set_xticks(xt)
    ax.set_xticklabels(['%g' % v for v in xt])
    ax.set_yticks(yticks)
    ax.set_yticklabels(['%g' % v for v in yticks])
    ax.spines['top'].set_visible(False)
    ax.spines['left'].set_color(BLUE_AX)
    ax.spines['left'].set_linewidth(1.5)
    ax.spines['right'].set_color((0.55, 0.6, 0.65))
    ax.spines['right'].set_linewidth(1.0)
    ax.spines['bottom'].set_color(DARK)
    ax.spines['bottom'].set_linewidth(2.0)
    ax.tick_params(axis='y', direction='in', length=19, width=1.4, colors=BLUE_AX,
                   labelsize=27, pad=21, right=False)
    ax.tick_params(axis='x', direction='in', length=19, width=1.0, color=DARK,
                   labelcolor=DARK, labelsize=27, pad=22, top=False)
    ax.set_xlabel('UTC hours on 20241217', fontsize=34, color=DARK, labelpad=15)
    ax.set_ylabel(ylabel, fontsize=34, color=BLUE_AX, labelpad=20)


def legend(ax, handles, labels, x_px, y_px, textpad):
    leg = ax.legend(handles, labels, loc='upper left',
                    bbox_to_anchor=(x_px / W, 1 - y_px / H), bbox_transform=fig.transFigure,
                    frameon=False, borderpad=0, borderaxespad=0, handlelength=6.0,
                    handletextpad=textpad, labelspacing=0.55, fontsize=28)
    for t in leg.get_texts():
        t.set_linespacing(1.45)
    leg.set_zorder(10)
    return leg


def bt_handles():
    return [Line2D([], [], color=C_2C, lw=LW_2C), Line2D([], [], color=C_3C, lw=LW_3C),
            Line2D([], [], color=C_PHY, lw=LW_PHY)]


# panel 1
ax = axes[0]
ax.plot(*xy(BT23_2C), color=C_2C, lw=LW_2C, zorder=2)
ax.plot(*xy(BT23_3C), color=C_3C, lw=LW_3C, zorder=2)
ax.plot(*xy(BT23_PHY), color=C_PHY, lw=LW_PHY, zorder=2)
spans(ax, WET_WINDOW, TAN, below=0.011)
style(ax, 'Zenith BT 23 GHz, K', (21.9, 171.8), [40, 60, 80, 100, 120, 140, 160])
legend(ax, bt_handles(), ['MWR 2C (tan = wet window)', 'MWR 3C', 'Phy-Iter'], 1940, 374, 0.75)

# panel 2
ax = axes[1]
ax.plot(*xy(BT31_2C), color=C_2C, lw=LW_2C, zorder=2)
ax.plot(*xy(BT31_3C), color=C_3C, lw=LW_3C, zorder=2)
ax.plot(*xy(BT31_PHY), color=C_PHY, lw=LW_PHY, zorder=2)
spans(ax, RAIN_FLAG, TAN, below=0.011)
style(ax, 'Zenith BT 31 GHz, K', (8.6, 205), list(range(20, 201, 20)))
legend(ax, bt_handles(), ['MWR2C', 'MWR 3C (tan = rain flag)', 'Phy-Iter'], 1974, 1503, 0.75)

# panel 3
ax = axes[2]
ax.plot(*xy(PWV_2C), color=C_2C, lw=2.0, zorder=2)
ax.plot(*xy(PWV_3C), color=C_3C, lw=LW_3C, zorder=2)
ax.plot(*xy(PWV_PHY), color=C_PHY, lw=LW_PHY, zorder=2)
spans(ax, ONLY_2C, TAN, below=0.011)
spans(ax, ONLY_3C, BROWN, below=0.011)
style(ax, 'Precip. Water Vapor, mm', (0.663, 3.161), [1, 1.5, 2, 2.5, 3])
legend(ax, bt_handles(),
       ['MWR 2C PWV', 'MWR 3C PWV', 'Phy-Iter PWV\n(tan = MWR 2C only)\n(brown = MWR 3C only)'],
       455, 2641, 0.6)

# panel 4
ax = axes[3]
for seg in PHY_BAND:
    t, lo, hi = np.array(seg).T
    ax.fill_between(t, lo, hi, color=C_PHY, alpha=0.2, lw=0, zorder=1)
for seg in ADIA_BAND:
    t, lo, hi = np.array(seg).T
    ax.fill_between(t, lo, hi, color=C_ADIA, alpha=0.2, lw=0, zorder=1)
ax.plot(*xy(LWP_2C), color=C_2C, lw=2.2, zorder=2)
ax.plot(*xy(LWP_3C), color=C_3C, lw=2.8, zorder=2)
ax.plot(*xy(LWP_PHY), color=C_PHY, lw=5.5, zorder=2)
ax.plot(*xy(LWP_ADIA), color=C_ADIA, lw=2.8, zorder=2)
ax.plot(*xy(LWP_PHY_PTS), ls='none', marker='x', ms=14, mew=4.5, color=C_PHY, zorder=2)
ax.plot(*xy(LWP_ADIA_PTS), ls='none', marker='x', ms=14, mew=4.5, color=C_ADIA, zorder=2)
spans(ax, YELLOW_SPANS, (1, 1, 0))
spans(ax, GRAY_SPANS, (0.8, 0.8, 0.8))
spans(ax, CYAN_SPANS, (0, 1, 1))
style(ax, 'log10 Liquid Water Path, log10(g/m$^2$)', (-0.1, 4.51),
      [0, 0.5, 1, 1.5, 2, 2.5, 3, 3.5, 4, 4.5])
legend(ax, [Line2D([], [], color=C_2C, lw=2.8), Line2D([], [], color=C_3C, lw=2.8),
            Line2D([], [], color=C_PHY, lw=5.5, marker='x', ms=14, mew=4.5),
            Line2D([], [], color=C_ADIA, lw=2.8, marker='x', ms=14, mew=4.5)],
       ['MWR 2C LWP', 'MWR 3C LWP', 'Phy-Iter LWP', 'Adiabatic LWP'], 548, 3723, 0.65)

# panel 5
ax = axes[4]
for flag in DQ_FLAGS:
    tt = DQ_TIMES[flag]
    ax.plot(tt, [flag] * len(tt), ls='none', marker='o', ms=5.5, mec='none',
            color=C_PHY, zorder=2, clip_on=False)
style(ax, 'MWR Phy Iter DQ Flag', (-0.5, 11.5), [0, 2, 4, 6, 8, 10])

fig.savefig('out.png', dpi=100)
